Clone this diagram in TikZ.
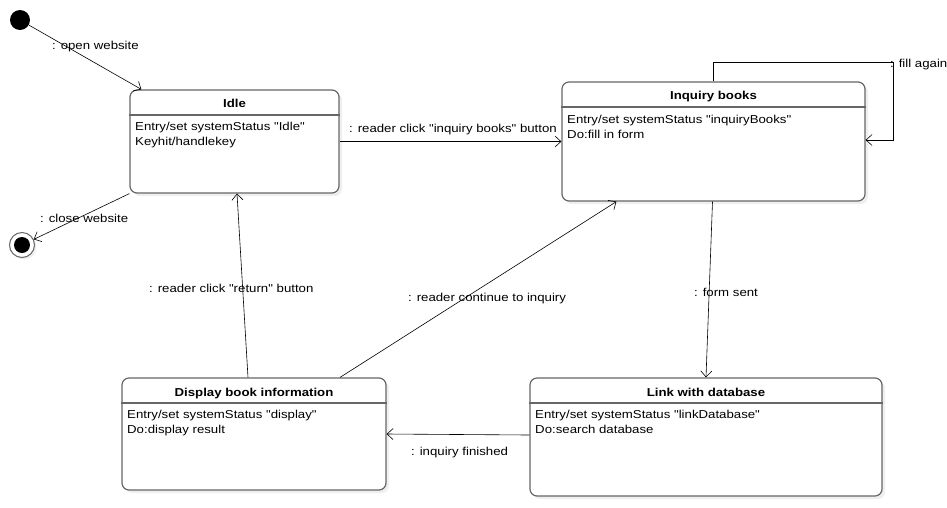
\documentclass[tikz,border=0pt]{standalone}
\usepackage{fontspec}
\newfontfamily\diafont{Liberation Sans}[FakeStretch=1.15]
\usetikzlibrary{arrows.meta,shadows}

\begin{document}
\begin{tikzpicture}[x=1pt,y=-1pt,
  state/.style={draw=black!60, line width=1.2pt, rounded corners=7pt, fill=white,
    drop shadow={shadow xshift=3pt,shadow yshift=-3pt,fill=black!12}},
  stitle/.style={anchor=base, font=\diafont\fontsize{11.5}{14}\selectfont\bfseries, inner sep=0pt},
  sbody/.style={anchor=north west, align=left, font=\diafont\fontsize{11.5}{14.5}\selectfont, inner sep=0pt},
  lbl/.style={anchor=base west, font=\diafont\fontsize{11.5}{14}\selectfont, inner sep=0pt},
  trans/.style={-{Straight Barb[length=6pt,width=11pt]}, line width=0.6pt},
]
\useasboundingbox (0,0) rectangle (947,507);

% states
\node [state, minimum width=209pt, minimum height=103pt] (idle) at (234.5,141.5) {};
\node [state, minimum width=303pt, minimum height=119pt] (inq) at (713.5,141.5) {};
\node [state, minimum width=264pt, minimum height=112pt] (disp) at (254,434) {};
\node [state, minimum width=352pt, minimum height=118pt] (link) at (706,437) {};

\draw [black!60, line width=1.2pt] (idle.west |- 0,115) -- (idle.east |- 0,115);
\draw [black!60, line width=1.2pt] (inq.west |- 0,107) -- (inq.east |- 0,107);
\draw [black!60, line width=1.2pt] (disp.west |- 0,403) -- (disp.east |- 0,403);
\draw [black!60, line width=1.2pt] (link.west |- 0,403) -- (link.east |- 0,403);

\node [stitle] (idleT) at (234.5,107) {Idle};
\node [sbody] (idleB) at (135,122) {Entry/set systemStatus "Idle"\\Keyhit/handlekey};
\node [stitle] (inqT) at (713.5,99) {Inquiry books};
\node [sbody] (inqB) at (567,115) {Entry/set systemStatus "inquiryBooks"\\Do:fill in form};
\node [stitle] (dispT) at (254,396) {Display book information};
\node [sbody] (dispB) at (127,410) {Entry/set systemStatus "display"\\Do:display result};
\node [stitle] (linkT) at (706,396) {Link with database};
\node [sbody] (linkB) at (535,410) {Entry/set systemStatus "linkDatabase"\\Do:search database};

% pseudo states
\node [circle, fill=black, minimum size=20pt, inner sep=0pt] (init) at (20,20) {};
\node [circle, draw=black!60, line width=1pt, fill=white, minimum size=25pt, inner sep=0pt,
  drop shadow={shadow xshift=2pt,shadow yshift=-2pt,fill=black!12}] (final) at (22,245) {};
\fill (final) circle [radius=8];

% transitions
\draw [trans] (init) -- ([xshift=12pt]idle.north west);
\draw [trans] (idle.south west) -- (final);
\draw [trans] (idle.east) -- (inq.west);
\coordinate (loop) at (893,62);
\draw [trans] (inq.north) |- (loop) |- ([yshift=1.5pt]inq.east);
\draw [trans] ([xshift=-1pt]inq.south) -- (link.north);
\draw [trans] ([yshift=2pt]link.west) -- (disp.east);
\draw [trans] ([xshift=-6pt]disp.north) -- ([xshift=2.5pt]idle.south);
\draw [trans] ([xshift=86pt]disp.north) -- ([xshift=55pt]inq.south west);

\node [lbl] (openL) at (52,49) {: open website};
\node [lbl] (closeL) at (40,222) {: close website};
\node [lbl] (clickL) at (349,132) {: reader click "inquiry books" button};
\node [lbl] (fillL) at (890,67) {: fill again};
\node [lbl] (sentL) at (694,296) {: form sent};
\node [lbl] (finL) at (411,455) {: inquiry finished};
\node [lbl] (retL) at (149,292) {: reader click "return" button};
\node [lbl] (contL) at (408,301) {: reader continue to inquiry};

\end{tikzpicture}
\end{document}
